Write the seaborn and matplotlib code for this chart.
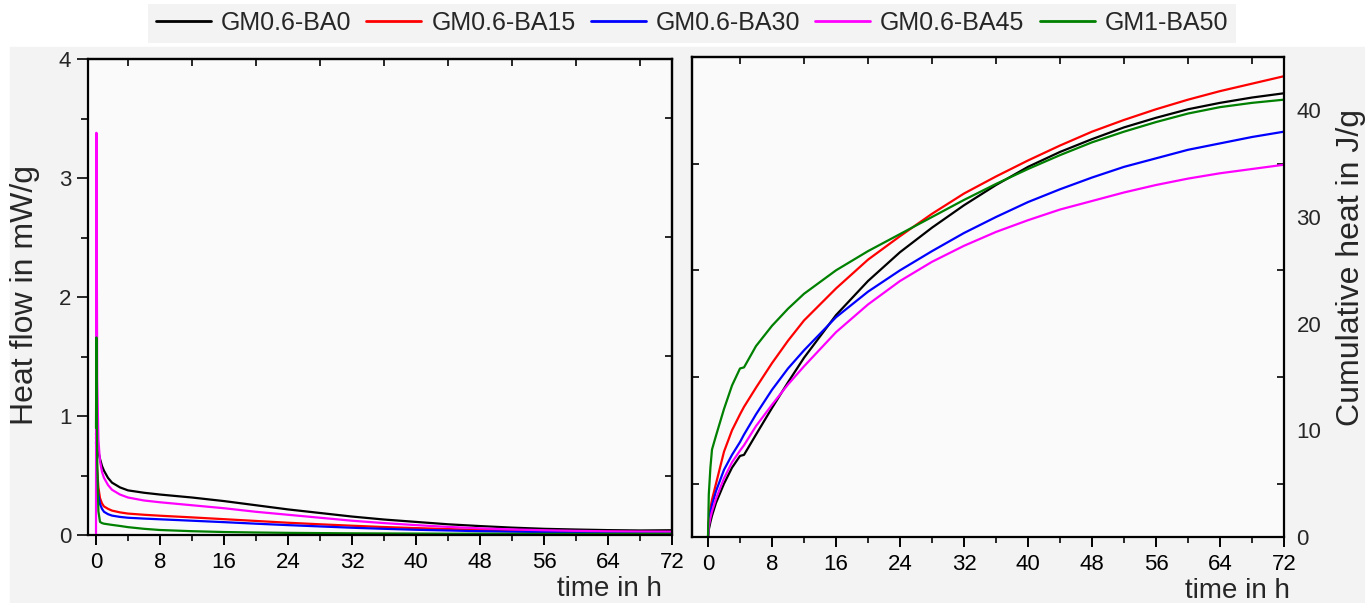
import numpy as np
import pandas as pd
import matplotlib
matplotlib.use("Agg")
import matplotlib.pyplot as plt
from matplotlib.lines import Line2D
from matplotlib.patches import Rectangle
import seaborn as sns

# ---- data -------------------------------------------------------------
series = ["GM0.6-BA0", "GM0.6-BA15", "GM0.6-BA30", "GM0.6-BA45", "GM1-BA50"]
colors = ["#000000", "#ff0000", "#0000ff", "#ff00ff", "#008000"]

# heat flow (mW/g) vs time (h)
t_flow = [0, 0.05, 0.15, 0.3, 0.5, 0.75, 1, 1.5, 2, 3, 4, 6, 8, 12, 16, 20,
          24, 28, 32, 36, 40, 44, 48, 52, 56, 60, 64, 68, 72]
flow_ba0 = [0.85, 0.82, 0.76, 0.70, 0.64, 0.58, 0.54, 0.48, 0.44, 0.40, 0.375,
            0.355, 0.34, 0.315, 0.285, 0.25, 0.215, 0.185, 0.155, 0.13, 0.11,
            0.09, 0.075, 0.062, 0.052, 0.046, 0.041, 0.038, 0.04]
flow_ba15 = [0.82, 0.78, 0.55, 0.40, 0.31, 0.265, 0.24, 0.22, 0.205, 0.19, 0.18,
             0.17, 0.162, 0.148, 0.133, 0.118, 0.103, 0.09, 0.078, 0.067, 0.058,
             0.05, 0.043, 0.038, 0.033, 0.03, 0.027, 0.025, 0.025]
flow_ba30 = [0.78, 0.72, 0.48, 0.34, 0.26, 0.22, 0.195, 0.175, 0.163, 0.152,
             0.145, 0.138, 0.132, 0.12, 0.108, 0.095, 0.083, 0.072, 0.061,
             0.052, 0.044, 0.038, 0.032, 0.028, 0.025, 0.022, 0.02, 0.019, 0.019]
flow_ba45 = [0.0, 3.38, 1.30, 0.80, 0.62, 0.53, 0.48, 0.42, 0.38, 0.34, 0.315,
             0.29, 0.275, 0.25, 0.225, 0.195, 0.17, 0.145, 0.12, 0.10, 0.083,
             0.068, 0.056, 0.047, 0.04, 0.035, 0.031, 0.029, 0.028]
flow_gm1 = [0.90, 1.66, 0.60, 0.20, 0.11, 0.10, 0.095, 0.09, 0.085, 0.076,
            0.066, 0.052, 0.042, 0.032, 0.025, 0.021, 0.018, 0.016, 0.014,
            0.013, 0.012, 0.011, 0.011, 0.01, 0.01, 0.01, 0.01, 0.01, 0.01]

# cumulative heat (J/g) vs time (h)
t_heat = [0, 0.1, 0.3, 0.5, 1, 2, 3, 4, 4.5, 6, 8, 10, 12, 16, 20, 24, 28, 32,
          36, 40, 44, 48, 52, 56, 60, 64, 68, 72]
heat_ba0 = [0, 0.7, 1.4, 2.0, 3.2, 5.0, 6.5, 7.6, 7.7, 9.6, 12.1, 14.5, 16.8,
            20.8, 24.0, 26.7, 29.0, 31.1, 33.0, 34.7, 36.1, 37.3, 38.4, 39.3,
            40.1, 40.7, 41.2, 41.6]
heat_ba15 = [0, 1.5, 2.7, 3.5, 5.0, 8.0, 10.0, 11.5, 12.2, 14.0, 16.3, 18.4,
             20.3, 23.3, 26.0, 28.2, 30.3, 32.2, 33.8, 35.3, 36.7, 38.0, 39.1,
             40.1, 41.0, 41.8, 42.5, 43.2]
heat_ba30 = [0, 1.3, 2.3, 3.0, 4.3, 6.3, 7.7, 8.9, 9.6, 11.5, 13.8, 15.8, 17.5,
             20.6, 23.0, 25.0, 26.8, 28.5, 30.0, 31.4, 32.6, 33.7, 34.7, 35.5,
             36.3, 36.9, 37.5, 38.0]
heat_ba45 = [0, 1.0, 1.8, 2.4, 3.6, 5.5, 7.0, 8.1, 8.6, 10.4, 12.4, 14.3, 16.0,
             19.2, 21.8, 24.0, 25.8, 27.3, 28.6, 29.7, 30.7, 31.5, 32.3, 33.0,
             33.6, 34.1, 34.5, 34.9]
heat_gm1 = [0, 4.0, 6.5, 8.2, 9.5, 12.0, 14.2, 15.8, 15.9, 17.9, 19.8, 21.4,
            22.8, 25.0, 26.8, 28.4, 30.0, 31.6, 33.1, 34.5, 35.8, 37.0, 38.0,
            38.9, 39.7, 40.3, 40.7, 41.0]

time_ticks = list(range(0, 73, 8))

flow_values = [flow_ba0, flow_ba15, flow_ba30, flow_ba45, flow_gm1]
heat_values = [heat_ba0, heat_ba15, heat_ba30, heat_ba45, heat_gm1]

flow_df = pd.concat([pd.DataFrame({"time": t_flow, "value": v, "sample": s})
                     for s, v in zip(series, flow_values)], ignore_index=True)
heat_df = pd.concat([pd.DataFrame({"time": t_heat, "value": v, "sample": s})
                     for s, v in zip(series, heat_values)], ignore_index=True)

# ---- style ------------------------------------------------------------
sns.set_theme(style="ticks")
plt.rcParams["font.family"] = ["Liberation Sans", "DejaVu Sans"]
plt.rcParams["axes.linewidth"] = 1.6

W, H = 1365, 603
fig = plt.figure(figsize=(W / 100, H / 100), dpi=100, facecolor="white")
fig.patches.append(Rectangle((10 / W, 0), 1 - 10 / W, 1 - 47 / H,
                             transform=fig.transFigure, color="#f3f3f3",
                             zorder=-10))


def px_axes(x0, x1, ytop, ybot):
    return fig.add_axes([x0 / W, 1 - ybot / H, (x1 - x0) / W, (ybot - ytop) / H])


ax1 = px_axes(88, 672, 59, 535)
ax2 = px_axes(692, 1284, 57, 537)
palette = dict(zip(series, colors))

for ax, df in ((ax1, flow_df), (ax2, heat_df)):
    ax.set_facecolor("#fafafa")
    sns.lineplot(data=df, x="time", y="value", hue="sample", palette=palette,
                 estimator=None, sort=False, lw=1.6, legend=False, ax=ax)
    ax.set_xlabel("")
    ax.set_ylabel("")
    for sp in ax.spines.values():
        sp.set_visible(True)
        sp.set_color("black")
        sp.set_linewidth(1.6)
    ax.set_xticks(time_ticks)
    ax.set_xticks([t + 4 for t in time_ticks[:-1]], minor=True)
    ax.tick_params(axis="x", which="major", direction="out", length=7,
                   width=1.4, labelsize=16, pad=5, colors="black")
    ax.tick_params(axis="x", which="minor", direction="out", length=4,
                   width=1.4)
    top = ax.secondary_xaxis("top")
    top.set_xticks([t + 4 for t in time_ticks[:-1]])
    top.tick_params(direction="in", length=5, width=1.4, labeltop=False)

# left panel: heat flow
ax1.set_xlim(-1, 72)
ax1.set_ylim(0, 4)
ax1.set_yticks([0, 1, 2, 3, 4])
ax1.set_yticks([0.5, 1.5, 2.5, 3.5], minor=True)
ax1.tick_params(axis="y", which="major", direction="out", length=8, width=1.4,
                labelsize=16, pad=4)
ax1.tick_params(axis="y", which="minor", direction="out", length=5, width=1.4)
r1 = ax1.secondary_yaxis("right")
r1.set_yticks([0.5, 1.5, 2.5, 3.5])
r1.tick_params(direction="in", length=5, width=1.4, labelright=False)

# right panel: cumulative heat, scale on the right
ax2.set_xlim(-2, 72)
ax2.set_ylim(0, 45)
ax2.yaxis.tick_right()
ax2.set_yticks([0, 10, 20, 30, 40])
ax2.set_yticks([5, 15, 25, 35], minor=True)
ax2.tick_params(axis="y", which="major", length=0, labelsize=16, pad=9,
                left=False, right=True, labelleft=False, labelright=True)
ax2.tick_params(axis="y", which="minor", direction="in", length=5, width=1.4,
                left=False, right=True)
l2 = ax2.secondary_yaxis("left")
l2.set_yticks([5, 15, 25, 35])
l2.tick_params(direction="in", length=5, width=1.4, labelleft=False)

# axis titles
fig.text(25 / W, 1 - 295 / H, "Heat flow in mW/g", rotation=90, fontsize=23,
         ha="center", va="center")
fig.text(662 / W, 1 - 589 / H, "time in h", fontsize=20, ha="right",
         va="center")
fig.text(1290 / W, 1 - 591 / H, "time in h", fontsize=20, ha="right",
         va="center")
fig.text(1351 / W, 1 - 268 / H, "Cumulative heat in J/g", rotation=90,
         fontsize=23, ha="center", va="center")

# shared legend
handles = [Line2D([], [], color=c, lw=2.0) for c in colors]
leg = fig.legend(handles, series, loc="center", ncol=5,
                 bbox_to_anchor=(692 / W, 1 - 23 / H), fontsize=18,
                 frameon=True, facecolor="#f3f3f3", edgecolor="none",
                 fancybox=False, framealpha=1, handlelength=2.2,
                 handletextpad=0.4, columnspacing=0.6, borderpad=0.3)

fig.savefig("out.png", dpi=100, facecolor=fig.get_facecolor())
